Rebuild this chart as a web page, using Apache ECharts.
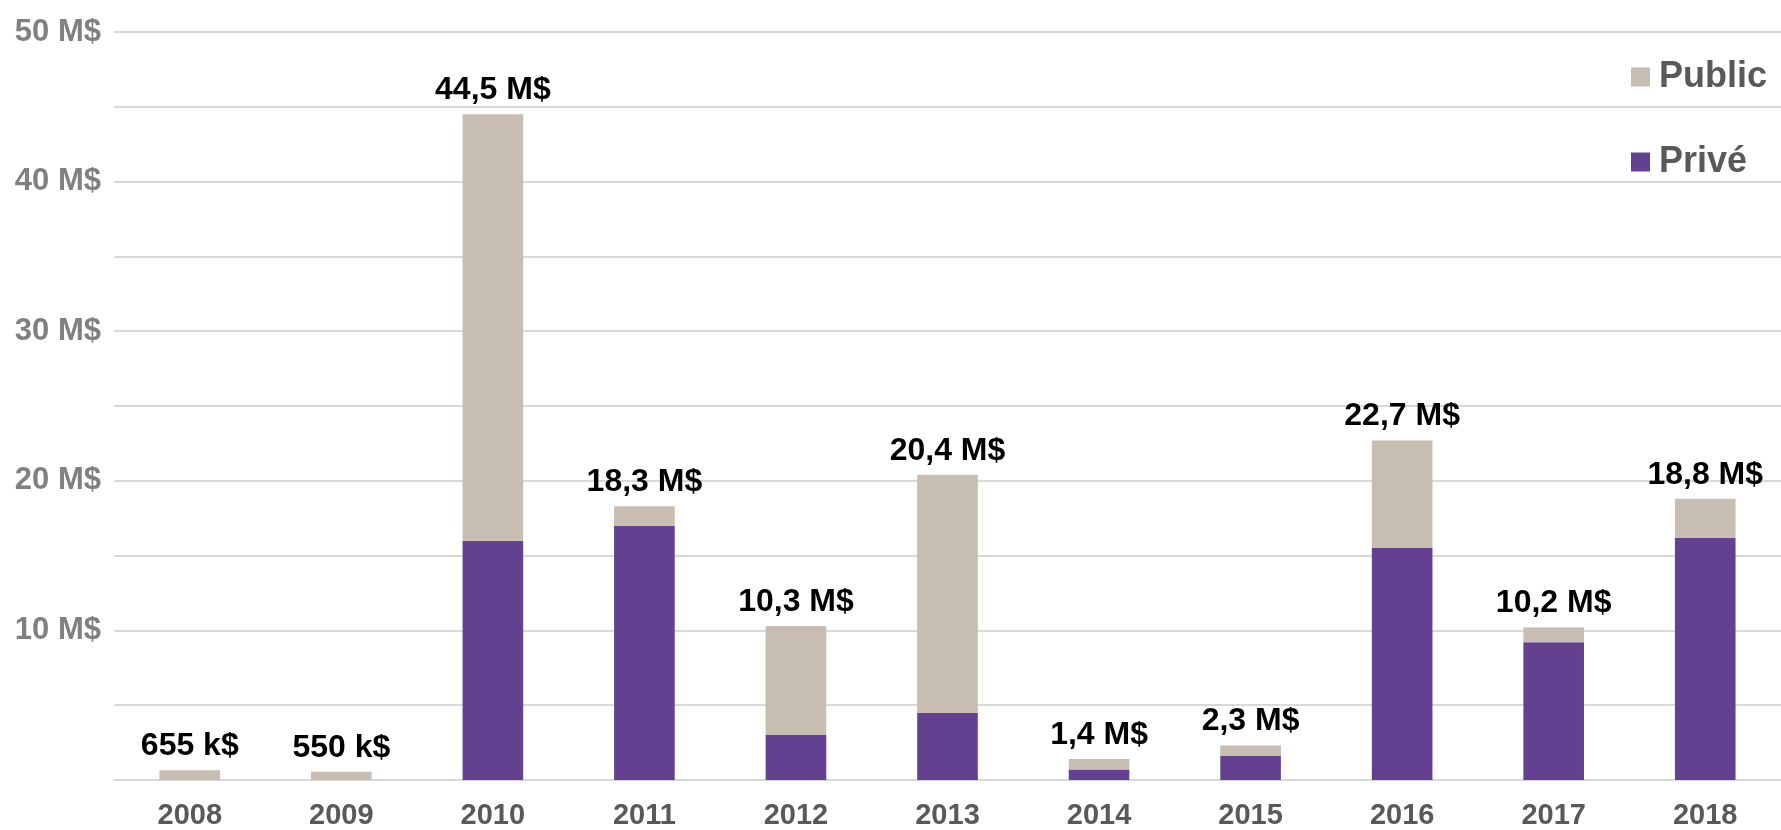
<!DOCTYPE html>
<html>
<head>
<meta charset="utf-8">
<script src="https://cdn.jsdelivr.net/npm/echarts@6/dist/echarts.min.js"></script>
<style>html,body{margin:0;padding:0;background:#fff;}#c{width:1781px;height:830px;}</style>
</head>
<body>
<div id="c"></div>
<script>
const years = ["2008","2009","2010","2011","2012","2013","2014","2015","2016","2017","2018"];
const prive = [0, 0, 16.0, 17.0, 3.0, 4.5, 0.7, 1.6, 15.5, 9.2, 16.2];
const publicVals = [0.655, 0.55, 28.5, 1.3, 7.3, 15.9, 0.7, 0.7, 7.2, 1.0, 2.6];
const totalLabels = ["655 k$","550 k$","44,5 M$","18,3 M$","10,3 M$","20,4 M$","1,4 M$","2,3 M$","22,7 M$","10,2 M$","18,8 M$"];
const yTicks = [0, 10, 20, 30, 40, 50];

const FONT = "'Liberation Sans', Arial, sans-serif";
const chart = echarts.init(document.getElementById('c'), null, {renderer: 'canvas'});
chart.setOption({
  animation: false,
  backgroundColor: '#ffffff',
  grid: {left: 114, right: 0, top: 32, bottom: 49, containLabel: false},
  legend: {
    data: ['Public', 'Privé'],
    orient: 'vertical',
    left: 1631, top: 59,
    padding: 0,
    itemWidth: 19, itemHeight: 19, itemGap: 49,
    icon: 'rect',
    textStyle: {fontFamily: FONT, fontSize: 36, fontWeight: 'bold', color: '#595959', padding: [0,0,0,4]}
  },
  xAxis: {
    type: 'category',
    data: years,
    axisTick: {show: false},
    axisLine: {show: true, lineStyle: {color: '#d9d9d9', width: 2}},
    axisLabel: {fontFamily: FONT, fontSize: 29, fontWeight: 'bold', color: '#595959', margin: 21}
  },
  yAxis: {
    type: 'value',
    min: 0, max: 50, interval: 5,
    axisLine: {show: false},
    axisTick: {show: false},
    splitLine: {lineStyle: {color: '#d9d9d9', width: 2}},
    axisLabel: {
      fontFamily: FONT, fontSize: 31, fontWeight: 'bold', color: '#808080', margin: 13,
      formatter: v => yTicks.includes(v) && v !== 0 ? v + ' M$' : ''
    }
  },
  series: [
    {
      name: 'Privé', type: 'bar', stack: 'tot', data: prive, barWidth: '40%',
      itemStyle: {color: '#634190'}
    },
    {
      name: 'Public', type: 'bar', stack: 'tot', data: publicVals, barWidth: '40%',
      itemStyle: {color: '#c7bdb0'},
      label: {
        show: true, position: 'top', distance: 8,
        fontFamily: FONT, fontSize: 32, fontWeight: 'bold', color: '#000000',
        formatter: p => totalLabels[p.dataIndex]
      }
    }
  ]
});
</script>
</body>
</html>
